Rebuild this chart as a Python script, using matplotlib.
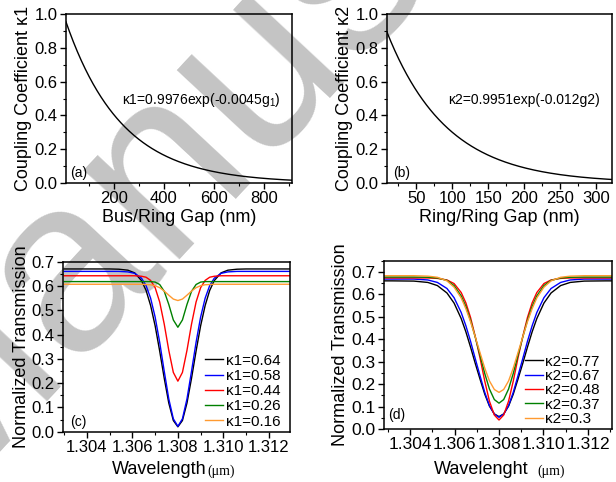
import numpy as np
import matplotlib
matplotlib.use("Agg")
import matplotlib.pyplot as plt
from matplotlib.ticker import MultipleLocator

plt.rcParams['font.family'] = ['Liberation Sans', 'DejaVu Sans']
plt.rcParams['mathtext.fontset'] = 'custom'
plt.rcParams['mathtext.rm'] = 'Liberation Sans'
plt.rcParams['mathtext.it'] = 'Liberation Sans:italic'

# ---- (a) bus/ring coupling fit: kappa1 = A * exp(-B * g1)
fit_a = (0.9976, 0.0045)
gap_a_range = (10, 910)          # nm
# ---- (b) ring/ring coupling fit: kappa2 = A * exp(-B * g2)
fit_b = (0.9951, 0.012)
gap_b_range = (9, 322)           # nm

# ---- (c) transmission dips vs. bus/ring coupling (half profile, symmetric about 1.308 um)
center_wl = 1.308
offset_c = [0, .0002, .0004, .0006, .0008, .0010, .0012, .0014, .0016, .0019, .0022, .0026, .0030, .0040, .0050]
labels_c = ["κ1=0.64", "κ1=0.58", "κ1=0.44", "κ1=0.26", "κ1=0.16"]
T_c_064 = [.020, .046, .118, .220, .332, .436, .520, .582, .622, .654, .665, .669, .670, .670, .670]
T_c_058 = [.022, .053, .135, .249, .368, .472, .550, .602, .632, .652, .658, .660, .660, .660, .660]
T_c_044 = [.208, .244, .335, .443, .534, .593, .623, .636, .640, .642, .642, .642, .642, .642, .642]
T_c_026 = [.430, .460, .524, .578, .606, .616, .618, .618, .618, .618, .618, .618, .618, .618, .618]
T_c_016 = [.540, .546, .562, .579, .593, .601, .605, .606, .607, .607, .607, .607, .607, .607, .607]

# ---- (d) transmission dips vs. ring/ring coupling (half profile)
offset_d = [0, .00021, .00043, .00064, .00085, .00107, .00128, .00149, .0017, .00202, .00234, .00277, .0032, .00383, .0048, .0053]
labels_d = ["κ2=0.77", "κ2=0.67", "κ2=0.48", "κ2=0.37", "κ2=0.3"]
T_d_077 = [.055, .067, .102, .155, .221, .293, .365, .433, .492, .561, .606, .639, .653, .659, .660, .660]
T_d_067 = [.052, .066, .104, .163, .236, .314, .391, .460, .519, .585, .626, .653, .664, .668, .668, .668]
T_d_048 = [.040, .062, .124, .213, .315, .413, .497, .562, .608, .648, .664, .671, .673, .673, .673, .673]
T_d_037 = [.115, .131, .178, .247, .328, .410, .484, .546, .593, .639, .662, .673, .676, .677, .677, .677]
T_d_030 = [.163, .176, .214, .271, .339, .411, .478, .536, .584, .632, .660, .676, .681, .683, .683, .683]

colors = ["#000000", "#0000ff", "#ff0000", "#008000", "#ff9a30"]


def full_profile(offsets, values):
    """Mirror a half dip profile about the resonance wavelength."""
    off = np.asarray(offsets)
    val = np.asarray(values)
    wl = np.concatenate([center_wl - off[:0:-1], center_wl + off])
    tr = np.concatenate([val[:0:-1], val])
    return wl, tr


fig = plt.figure(figsize=(6.16, 4.82), dpi=100)

# watermark behind everything else
fig.text(-0.055, -0.125, "Manuscript", rotation=47, rotation_mode='anchor',
         fontsize=178, color='#c4c4c4', ha='left', va='bottom', zorder=-5)

ax_a = fig.add_axes([0.1071, 0.6203, 0.3669, 0.3506])
ax_b = fig.add_axes([0.6282, 0.6203, 0.3653, 0.3506])
ax_c = fig.add_axes([0.1023, 0.1044, 0.3685, 0.3527])
ax_d = fig.add_axes([0.6234, 0.1100, 0.3701, 0.3492])

for ax in (ax_a, ax_b, ax_c, ax_d):
    ax.patch.set_alpha(0)
    for s in ax.spines.values():
        s.set_linewidth(1.1)
    ax.tick_params(which='major', direction='out', length=4, width=1.0, labelsize=12, pad=2)
    ax.tick_params(which='minor', direction='out', length=2.5, width=0.8)

# (a)
g1 = np.linspace(*gap_a_range, 400)
ax_a.plot(g1, fit_a[0] * np.exp(-fit_a[1] * g1), color='k', lw=1.0)
ax_a.set_xlim(*gap_a_range)
ax_a.set_ylim(0, 1.0)
ax_a.xaxis.set_major_locator(MultipleLocator(200))
ax_a.xaxis.set_minor_locator(MultipleLocator(100))
ax_a.yaxis.set_major_locator(MultipleLocator(0.2))
ax_a.yaxis.set_minor_locator(MultipleLocator(0.1))
ax_a.yaxis.set_major_formatter(plt.FormatStrFormatter('%.1f'))
ax_a.set_xlabel("Bus/Ring Gap (nm)", fontsize=13, labelpad=2)
ax_a.set_ylabel("Coupling Coefficient κ1", fontsize=13, labelpad=2)
ax_a.text(0.248, 0.49, r"κ1=0.9976exp(-0.0045g$\mathregular{_1}$)", transform=ax_a.transAxes,
          fontsize=10, va='center', ha='left')
ax_a.text(0.02, 0.06, "(a)", transform=ax_a.transAxes, fontsize=10, va='center')

# (b)
g2 = np.linspace(*gap_b_range, 400)
ax_b.plot(g2, fit_b[0] * np.exp(-fit_b[1] * g2), color='k', lw=1.0)
ax_b.set_xlim(*gap_b_range)
ax_b.set_ylim(0, 1.0)
ax_b.xaxis.set_major_locator(MultipleLocator(50))
ax_b.xaxis.set_minor_locator(MultipleLocator(25))
ax_b.yaxis.set_major_locator(MultipleLocator(0.2))
ax_b.yaxis.set_minor_locator(MultipleLocator(0.1))
ax_b.yaxis.set_major_formatter(plt.FormatStrFormatter('%.1f'))
ax_b.set_xlabel("Ring/Ring Gap (nm)", fontsize=13, labelpad=2)
ax_b.set_ylabel("Coupling Coefficient κ2", fontsize=13, labelpad=2)
ax_b.text(0.271, 0.49, "κ2=0.9951exp(-0.012g2)", transform=ax_b.transAxes,
          fontsize=10, va='center', ha='left')
ax_b.text(0.027, 0.06, "(b)", transform=ax_b.transAxes, fontsize=10, va='center')

# (c)
for vals, lab, col in zip([T_c_064, T_c_058, T_c_044, T_c_026, T_c_016], labels_c, colors):
    wl, tr = full_profile(offset_c, vals)
    ax_c.plot(wl, tr, color=col, lw=1.0, label=lab)
ax_c.set_xlim(1.30295, 1.31293)
ax_c.set_ylim(0, 0.7)
ax_c.xaxis.set_major_locator(MultipleLocator(0.002))
ax_c.xaxis.set_minor_locator(MultipleLocator(0.001))
ax_c.yaxis.set_major_locator(MultipleLocator(0.1))
ax_c.yaxis.set_minor_locator(MultipleLocator(0.05))
ax_c.xaxis.set_major_formatter(plt.FormatStrFormatter('%.3f'))
ax_c.yaxis.set_major_formatter(plt.FormatStrFormatter('%.1f'))
ax_c.set_ylabel("Normalized Transmission", fontsize=13, labelpad=1)
ax_c.text(0.03, 0.059, "(c)", transform=ax_c.transAxes, fontsize=10, va='center')
ax_c.legend(loc='lower right', bbox_to_anchor=(0.97, 0.0), frameon=False, fontsize=11,
            handlelength=1.2, handletextpad=0.15, labelspacing=0.08, borderaxespad=0.1,
            borderpad=0.1)

# (d)
for vals, lab, col in zip([T_d_077, T_d_067, T_d_048, T_d_037, T_d_030], labels_d, colors):
    wl, tr = full_profile(offset_d, vals)
    ax_d.plot(wl, tr, color=col, lw=1.0, label=lab)
ax_d.set_xlim(1.30283, 1.31308)
ax_d.set_ylim(0, 0.75)
ax_d.xaxis.set_major_locator(MultipleLocator(0.002))
ax_d.xaxis.set_minor_locator(MultipleLocator(0.001))
ax_d.yaxis.set_major_locator(MultipleLocator(0.1))
ax_d.yaxis.set_minor_locator(MultipleLocator(0.05))
ax_d.xaxis.set_major_formatter(plt.FormatStrFormatter('%.3f'))
ax_d.yaxis.set_major_formatter(plt.FormatStrFormatter('%.1f'))
ax_d.tick_params(axis='both', which='major', labelsize=12.5)
ax_d.set_ylabel("Normalized Transmission", fontsize=13, labelpad=2)
ax_d.text(0.018, 0.083, "(d)", transform=ax_d.transAxes, fontsize=10, va='center')
ax_d.legend(loc='lower right', bbox_to_anchor=(0.96, 0.0), frameon=False, fontsize=11,
            handlelength=1.2, handletextpad=0.15, labelspacing=0.02, borderaxespad=0.1,
            borderpad=0.1)

# wavelength axis titles: word in sans, unit in a smaller serif face
H = 482.0
W = 616.0
fig.text(112 / W, 1 - 470 / H, "Wavelength", fontsize=13, ha='left', va='center')
fig.text(207 / W, 1 - 471 / H, "(μm)", fontsize=10, ha='left', va='center',
         family=['Liberation Serif', 'DejaVu Serif'])
fig.text(434 / W, 1 - 470 / H, "Wavelenght", fontsize=13, ha='left', va='center')
fig.text(537 / W, 1 - 471 / H, "(μm)", fontsize=10, ha='left', va='center',
         family=['Liberation Serif', 'DejaVu Serif'])

fig.savefig("out.png", dpi=100)
